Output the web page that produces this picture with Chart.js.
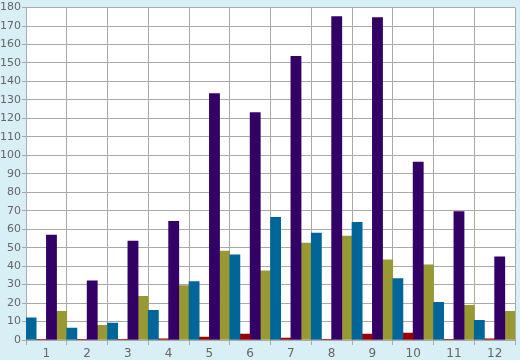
<!DOCTYPE html>
<html>
<head>
<meta charset="utf-8">
<script src="https://cdn.jsdelivr.net/npm/chart.js@4.4.1/dist/chart.umd.min.js"></script>
<style>
    html, body { margin: 0; padding: 0; background: #d9eff6; }
    #wrap { width: 520px; height: 360px; }
</style>
</head>
<body>
<div id="wrap"><canvas id="barChart" width="520" height="360"></canvas></div>
<script>
const categorie = ['1', '2', '3', '4', '5', '6', '7', '8', '9', '10', '11', '12'];
const serieBlu = [12, 6.4, 9.1, 16.1, 31.6, 46.1, 66.4, 57.9, 63.7, 33.2, 20.4, 10.7];
const serieRossa = [0.3, 0.3, 0.3, 0.6, 1.6, 3.2, 1.1, 0.3, 3.2, 3.7, 0.3, 0.6];
const serieViola = [56.8, 32.1, 53.6, 64.3, 133.4, 123.2, 153.6, 175.2, 174.6, 96.4, 69.6, 45.0];
const serieOliva = [15.5, 8.0, 23.6, 29.5, 48.2, 37.5, 52.5, 56.3, 43.4, 40.7, 18.8, 15.5];
const yMin = 0, yMax = 180, yStep = 10;

// sfondo bianco solo nell'area del grafico
const sfondoArea = {
    id: 'sfondoArea',
    beforeDraw(chart) {
        const { ctx, chartArea } = chart;
        ctx.save();
        ctx.fillStyle = '#ffffff';
        ctx.fillRect(chartArea.left, chartArea.top, chartArea.right - chartArea.left, chartArea.bottom - chartArea.top);
        ctx.restore();
    }
};

function creaDataset(label, dati, colore) {
    return {
        label: label,
        data: dati,
        backgroundColor: colore,
        borderWidth: 0,
        barPercentage: 1,
        categoryPercentage: 1
    };
}

function createChartConfig() {
    return {
        type: 'bar',
        data: {
            labels: categorie,
            datasets: [
                creaDataset('A', serieBlu, '#006699'),
                creaDataset('B', serieRossa, '#990000'),
                creaDataset('C', serieViola, '#330066'),
                creaDataset('D', serieOliva, '#999933')
            ]
        },
        options: {
            responsive: false,
            animation: false,
            layout: { padding: { top: 5, right: 5, left: 0, bottom: 0 } },
            plugins: {
                legend: { display: false },
                tooltip: { enabled: false }
            },
            scales: {
                x: {
                    grid: { color: '#aaaaaa', lineWidth: 1, tickLength: 5, offset: true },
                    border: { color: '#aaaaaa' },
                    ticks: { color: '#666666', font: { family: 'DejaVu Sans', size: 12 }, padding: 2 },
                    afterFit: scale => { scale.height = 20; }
                },
                y: {
                    min: yMin,
                    max: yMax,
                    grid: { color: '#aaaaaa', lineWidth: 1, tickLength: 4 },
                    border: { color: '#aaaaaa' },
                    ticks: { stepSize: yStep, color: '#666666', font: { family: 'DejaVu Sans', size: 11 }, padding: 1 },
                    afterFit: scale => { scale.width = 26; }
                }
            }
        },
        plugins: [sfondoArea]
    };
}

document.addEventListener('DOMContentLoaded', () => {
    new Chart(document.getElementById('barChart'), createChartConfig());
});
</script>
</body>
</html>
